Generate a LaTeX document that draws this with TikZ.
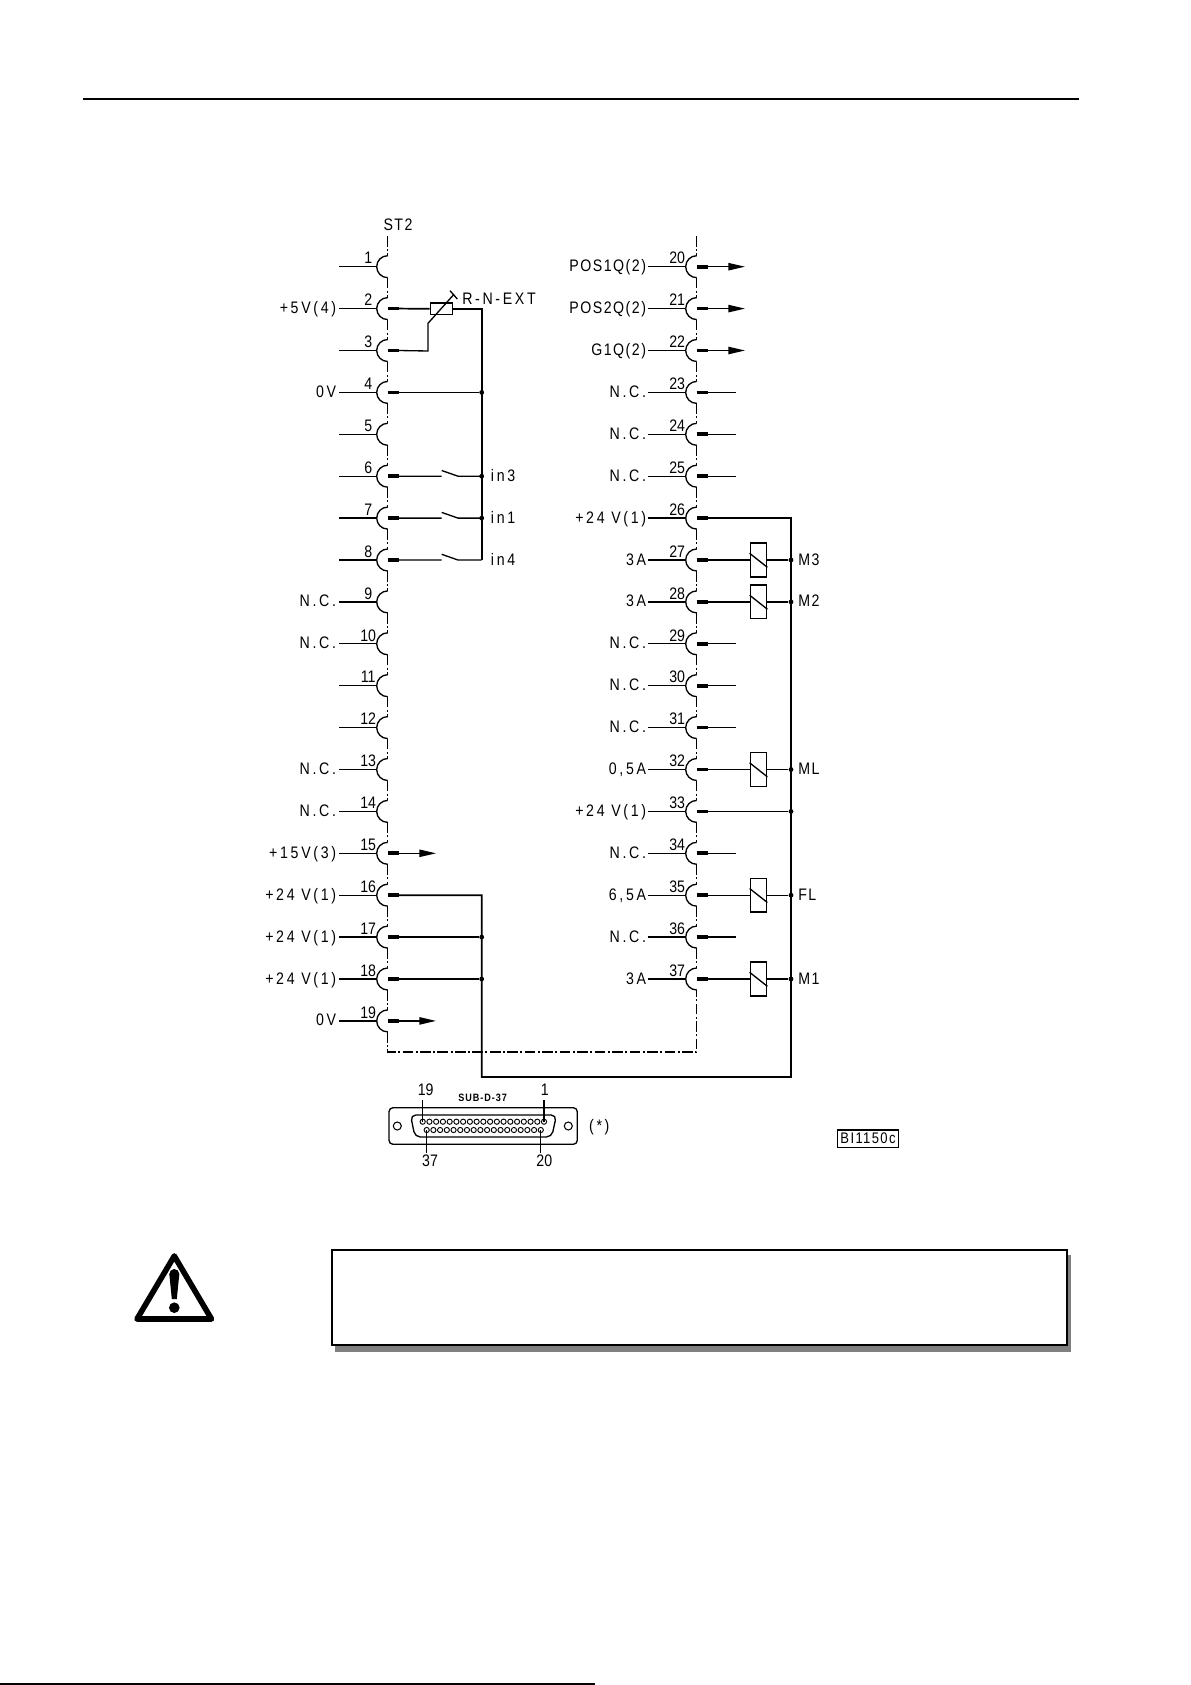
\documentclass[tikz,border=0pt]{standalone}
\usepackage{fontspec}
\setmainfont{Liberation Sans}
\newfontfamily\widefont[LetterSpace=16,FakeStretch=0.85]{Liberation Sans}
\newfontfamily\posfont[LetterSpace=9,FakeStretch=0.85]{Liberation Sans}
\newfontfamily\numfont[FakeStretch=0.85]{Liberation Sans}
\usetikzlibrary{arrows.meta}

\tikzset{
	wire/.style={line width=1pt},
	busline/.style={line width=1.3pt},
	stub/.style={line width=2.8pt},
	spine/.style={line width=1pt,dash pattern=on 8pt off 1.8pt on 1.5pt off 1.8pt},
	pinnum/.style={inner sep=0pt,font=\numfont\fontsize{12.5pt}{14pt}\selectfont},
	pinlabel/.style={inner sep=0pt,text height=9pt,text depth=0pt,font=\widefont\fontsize{12.5pt}{14pt}\selectfont},
	jdot/.style={circle,fill,inner sep=0pt,minimum size=3.6pt},
	relaybox/.style={draw,line width=1pt,minimum width=12.3pt,minimum height=25.3pt,inner sep=0pt},
	resbox/.style={draw,line width=1pt,minimum width=16.5pt,minimum height=8.5pt,inner sep=0pt},
	outarrow/.style={wire,-{Triangle[length=12.5pt,width=5.5pt]}},
}

% number, x of the spine, row
\newcommand{\connpin}[3]{
	\coordinate (P#1) at (#2,{266.7+41.9*(#3-1)});
	\path (P#1) ++(-48.4,0) coordinate (A#1) (P#1) ++(-11,0) coordinate (B#1) (P#1) ++(11.3,0) coordinate (S#1);
	\draw[wire] (A#1) -- (B#1);
	\draw[wire] (P#1) ++(0,-11) arc[start angle=270,end angle=90,radius=11];
	\path (P#1) ++(-19.5,-8.5) node[pinnum](N#1) {#1};
}

\begin{document}
\begin{tikzpicture}[x=0.75pt,y=-0.75pt]
	\useasboundingbox (0,0) rectangle (1191,1685);

	\coordinate (rule1) at (83,99);
	\coordinate (rule2) at (1079,99);
	\coordinate (foot1) at (0,1684);
	\coordinate (foot2) at (595,1684);
	\draw[wire] (rule1) -- (rule2);
	\draw[busline] (foot1) -- (foot2);

	\node[pinlabel,font=\posfont\fontsize{12.5pt}{14pt}\selectfont](st2) at (398,224) {ST2};

	\foreach \n in {1,...,19} {\connpin{\n}{387.7}{\n}}
	\foreach \n in {20,...,37} {\connpin{\n}{696.7}{\n-19}}

	\foreach \n in {2,3,4,6,7,8,15,16,...,37}
		\draw[stub] (P\n) -- (S\n);

	% dash-dot spines
	\foreach \n in {1,...,18}
		\draw[spine] (P\n) ++(0,11) -- ++(0,19.9);
	\foreach \n in {20,...,36}
		\draw[spine] (P\n) ++(0,11) -- ++(0,19.9);
	\coordinate (frameL) at (387.7,1052);
	\coordinate (frameR) at (696.7,1052);
	\draw[spine] (387.7,236) -- (387.7,255.7);
	\draw[spine] (696.7,236) -- (696.7,255.7);
	\draw[spine] (P19) ++(0,11) -- (frameL) -- (frameR) -- (696.7,990);

	% texts left of the pins
	\foreach \n/\t in {2/+5V(4),4/0V,9/N.C.,10/N.C.,13/N.C.,14/N.C.,15/+15V(3),16/+24 V(1),17/+24 V(1),18/+24 V(1),19/0V}
		\path (A\n) ++(-3,-1) node[pinlabel,anchor=east](T\n) {\t};
	\foreach \n/\t in {20/\posfont POS1Q(2),21/\posfont POS2Q(2),22/\posfont G1Q(2),23/N.C.,24/N.C.,25/N.C.,26/+24 V(1),27/3A,28/3A,29/N.C.,30/N.C.,31/N.C.,32/{0,5A},33/+24 V(1),34/N.C.,35/{6,5A},36/N.C.,37/3A}
		\path (A\n) ++(-2,-1) node[pinlabel,anchor=east](T\n) {\t};

	% left bus with R-N-EXT
	\coordinate (c2) at (481.7,308.7);
	\coordinate (c8) at (481.7,560);
	\coordinate (c16) at (481.7,895.2);
	\coordinate (c77) at (481.7,1077);
	\coordinate (r77) at (791,1077);
	\coordinate (c26) at (791,518);
	\node[resbox](rn) at (441.3,308.7) {};
	\draw[busline] (S2) -- (rn.west);
	\draw[busline] (rn.east) -- (c2) -- (c8);
	\coordinate (w3a) at (428,351);
	\coordinate (w3b) at (428,323.3);
	\coordinate (w3c) at (454,294.3);
	\coordinate (tick1) at (450,290.7);
	\coordinate (tick2) at (457.3,299);
	\draw[wire] (S3) -- (w3a) -- (w3b) -- (w3c);
	\draw[wire] (tick1) -- (tick2);
	\node[pinlabel,anchor=west](rnext) at (462,298.7) {R-N-EXT};

	\node[jdot](d4) at (P4 -| c2) {};
	\draw[wire] (S4) -- (d4);
	\coordinate (ka) at (441.7,0);
	\coordinate (kb) at (458,0);
	\coordinate (tx) at (490.7,0);
	\foreach \n in {6,7,8}
		\draw[wire] (S\n) -- (P\n -| ka) ++(0,-5.7) -- (P\n -| kb) -- (P\n -| c2);
	\node[jdot](d6) at (P6 -| c2) {};
	\node[jdot](d7) at (P7 -| c2) {};
	\foreach \n/\t in {6/in3,7/in1,8/in4}
		\path (P\n -| tx) ++(0,-1) node[pinlabel,anchor=west](I\n) {\t};

	% lower loop
	\draw[busline] (S16) -- (c16) -- (c77) -- (r77) -- (c26) -- (S26);
	\node[jdot](d17) at (P17 -| c16) {};
	\node[jdot](d18) at (P18 -| c16) {};
	\draw[wire] (S17) -- (d17);
	\draw[wire] (S18) -- (d18);

	% outgoing arrows
	\coordinate (ar) at (745,0);
	\coordinate (al) at (436,0);
	\foreach \n in {20,21,22}
		\draw[outarrow] (S\n) -- (P\n -| ar);
	\foreach \n in {15,19}
		\draw[outarrow] (S\n) -- (P\n -| al);

	% open pins
	\coordinate (nc) at (736,0);
	\foreach \n in {23,24,25,29,30,31,34,36}
		\draw[wire] (S\n) -- (P\n -| nc);

	% relays
	\coordinate (kx) at (758.5,0);
	\coordinate (mx) at (798,0);
	\foreach \n/\t in {27/M3,28/M2,32/ML,35/FL,37/M1} {
		\node[relaybox](K\n) at (P\n -| kx) {};
		\node[jdot](D\n) at (P\n -| c26) {};
		\draw[wire] (K\n.west) ++(0,-6.7) -- ([yshift=-5.5pt]K\n.east);
		\draw[wire] (S\n) -- (K\n.west);
		\draw[wire] (K\n.east) -- (D\n);
		\path (P\n -| mx) ++(0,-1) node[pinlabel,anchor=west](M\n) {\posfont\t};
	}
	\node[jdot](D33) at (P33 -| c26) {};
	\draw[wire] (S33) -- (D33);

	% SUB-D plug
	\draw[wire,rounded corners=3pt] (389,1107.7) rectangle (577.3,1144.3);
	\draw[wire,rounded corners=4pt] (410.5,1115) -- (556.5,1115) -- (551.7,1137) -- (415,1137) -- cycle;
	\draw[line width=0.8pt] (397.3,1126) circle[radius=4];
	\draw[line width=0.8pt] (568.3,1126) circle[radius=4];
	\foreach \k in {0,...,18}
		\draw[line width=0.7pt] ({422.7+6.74*\k},1121.7) circle[radius=2.6];
	\foreach \k in {0,...,17}
		\draw[line width=0.7pt] ({426.7+6.71*\k},1130) circle[radius=2.6];
	\node[pinnum](p19) at (425.7,1090) {19};
	\node[pinnum](p1) at (544.7,1090) {1};
	\node[pinnum](p37) at (430,1160.7) {37};
	\node[pinnum](p20) at (544.3,1160.7) {20};
	\coordinate (h19) at (422.7,1121.7);
	\coordinate (h1) at (544,1121.7);
	\coordinate (h37) at (426.7,1130);
	\coordinate (h20) at (540.7,1130);
	\draw[wire] (422.7,1100) -- (h19);
	\draw[wire] (544,1100) -- (h1);
	\draw[wire] (h37) -- (426.7,1153.3);
	\draw[wire] (h20) -- (540.7,1153.3);
	\node[inner sep=0pt,font=\posfont\bfseries\fontsize{8pt}{9pt}\selectfont](subd) at (482.7,1098) {SUB-D-37};
	\node[pinlabel](star) at (599.3,1125.7) {(*)};

	\node[draw,line width=1pt,minimum width=46pt,minimum height=13pt,inner sep=0pt,font=\posfont\fontsize{11.5pt}{12pt}\selectfont](dwg) at (868,1138.7) {BI1150c};

	% warning
	\fill[gray] (335,1255) rectangle (1071,1351.7);
	\draw[line width=1.4pt,fill=white] (331.7,1250) rectangle (1066.7,1345);
	\draw[line width=4.2pt,line join=round] (174.3,1256) -- (211.5,1319) -- (137,1319) -- cycle;
	\fill (169.3,1274) -- (179.3,1274) -- (176.8,1299) -- (171.8,1299) -- cycle;
	\fill (174.3,1274) circle[radius=5];
	\fill (174.3,1307.7) circle[radius=5.3];
\end{tikzpicture}
\end{document}
